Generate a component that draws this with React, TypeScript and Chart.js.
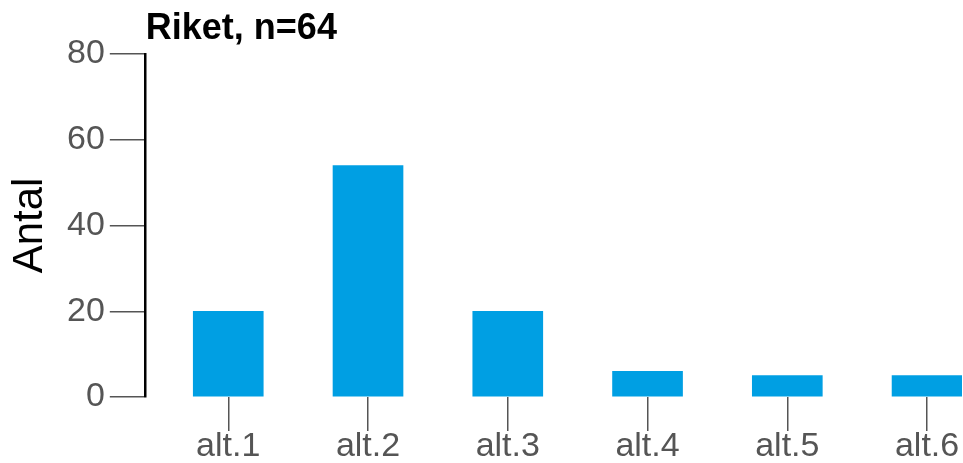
import React, { useEffect, useRef } from "react";
import { Chart, registerables } from "chart.js";

Chart.register(...registerables);

const categories = ["alt.1", "alt.2", "alt.3", "alt.4", "alt.5", "alt.6"];
const counts = [20, 54, 20, 6, 5, 5];
const yTicks = [0, 20, 40, 60, 80];
const chartTitle = "Riket, n=64";
const yTitle = "Antal";

const FONT = "'Liberation Sans', Arial, Helvetica, sans-serif";
const BAR = "#009FE3";
const GREY = "#555555";

const titlePlugin = {
  id: "leftTitle",
  afterDraw(chart: any) {
    const { ctx, chartArea } = chart;
    ctx.save();
    ctx.font = `bold 36px ${FONT}`;
    ctx.fillStyle = "#000";
    ctx.textAlign = "left";
    ctx.textBaseline = "alphabetic";
    ctx.fillText(chartTitle, chartArea.left + 1, 39);
    ctx.restore();
  },
};

export default function App() {
  const ref = useRef<HTMLCanvasElement | null>(null);
  useEffect(() => {
    if (!ref.current) return;
    const chart = new Chart(ref.current, {
      type: "bar",
      data: {
        datasets: [
          {
            data: counts.map((v, i) => ({ x: i + 1, y: v })),
            backgroundColor: BAR,
            borderWidth: 0,
            barThickness: 70,
          },
        ],
      },
      options: {
        animation: false,
        responsive: false,
        layout: { padding: { top: 54, right: 1, left: 0, bottom: 0 } },
        plugins: { legend: { display: false }, tooltip: { enabled: false }, title: { display: false } },
        scales: {
          x: {
            type: "linear",
            offset: false,
            min: 0.403,
            max: 6.25,
            afterBuildTicks: (scale: any) => {
              scale.ticks = categories.map((_, i) => ({ value: i + 1 }));
            },
            grid: { display: true, offset: false, drawOnChartArea: false, drawTicks: true, tickLength: 34, color: GREY, lineWidth: 1.5 },
            border: { display: false },
            ticks: {
              callback: (v: any) => categories[Math.round(Number(v)) - 1] ?? "",
              font: { family: FONT, size: 34, lineHeight: 1 },
              color: GREY,
              padding: -1,
              maxRotation: 0,
              autoSkip: false,
            },
          },
          y: {
            min: 0,
            max: 80,
            afterBuildTicks: (scale: any) => {
              scale.ticks = yTicks.map((v) => ({ value: v }));
            },
            grid: { display: true, drawOnChartArea: false, drawTicks: true, tickLength: 35, color: GREY, lineWidth: 1.5 },
            border: { display: true, color: "#000", width: 2.5 },
            ticks: {
              font: { family: FONT, size: 34, lineHeight: 1 },
              color: GREY,
              padding: 5,
            },
            title: {
              display: true,
              text: yTitle,
              font: { family: FONT, size: 42, lineHeight: 1 },
              color: "#000",
              padding: { top: 9, bottom: 11 },
            },
          },
        },
      },
      plugins: [titlePlugin],
    } as any);
    return () => chart.destroy();
  }, []);
  return (
    <div style={{ position: "absolute", left: 0, top: 0, width: 963, height: 463, overflow: "hidden", background: "#fff" }}>
      <canvas ref={ref} width={963} height={463} style={{ display: "block", width: 963, height: 463 }} />
    </div>
  );
}
